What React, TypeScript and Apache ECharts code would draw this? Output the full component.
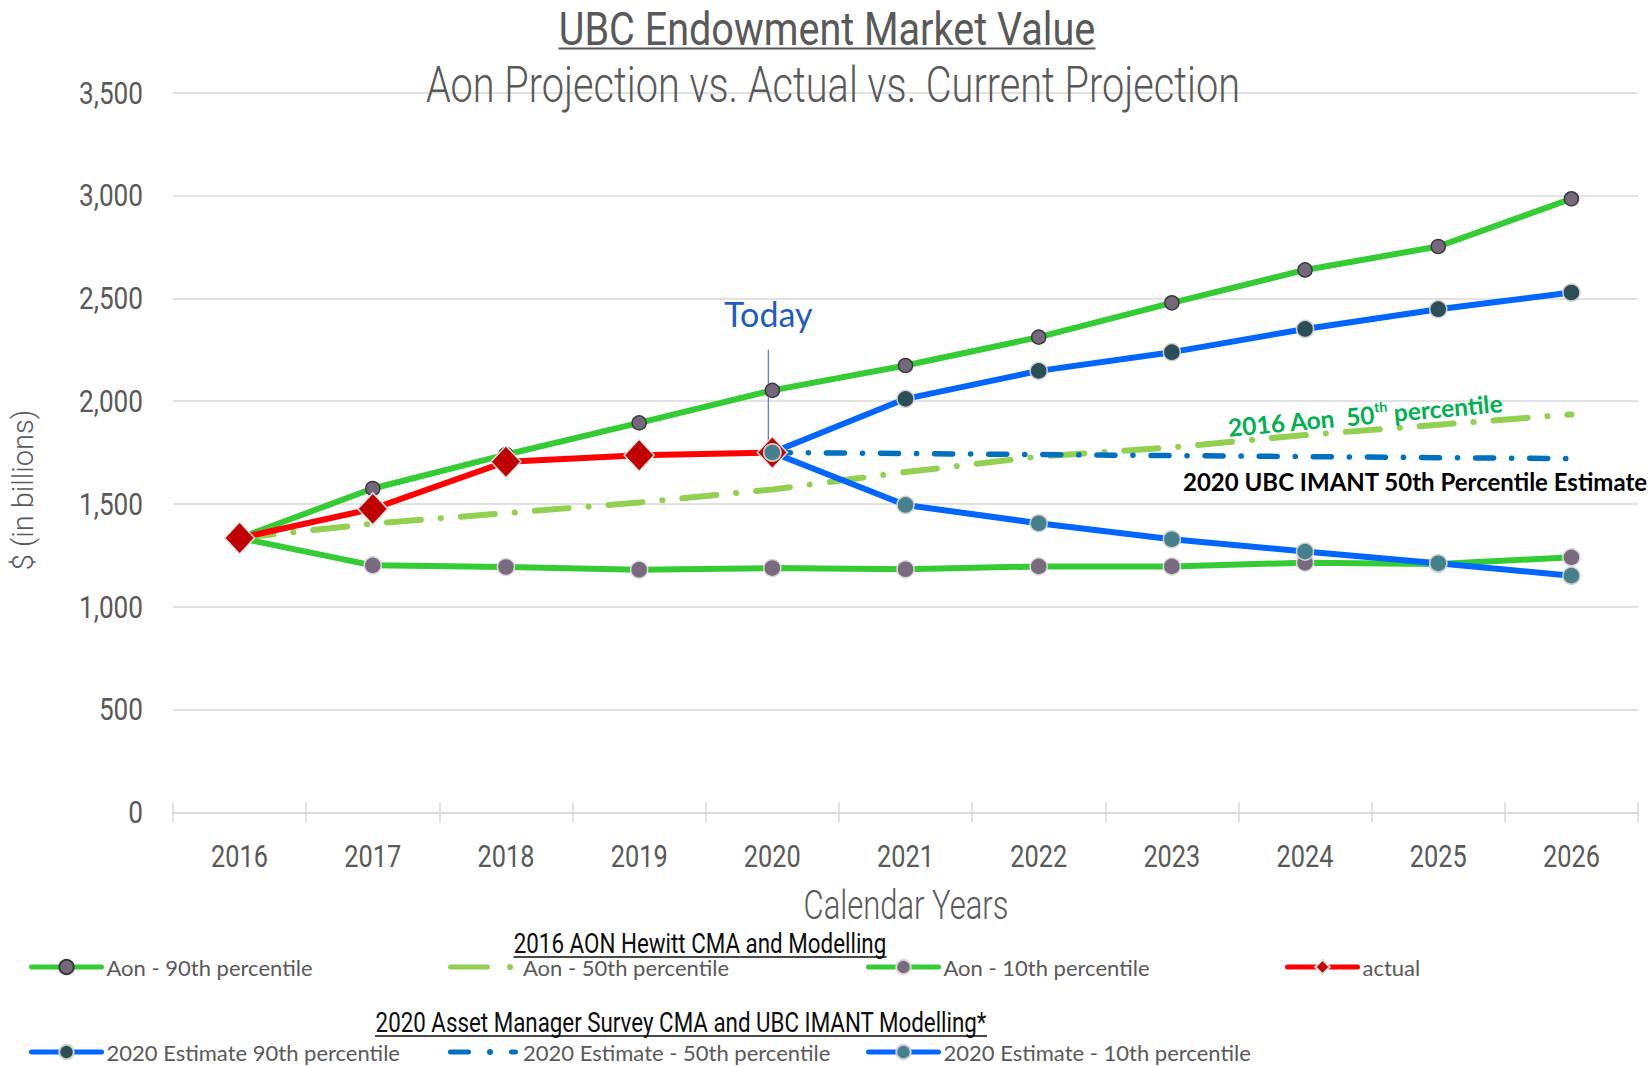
import React, { useEffect, useRef } from 'react';
import * as echarts from 'echarts';

const years = ['2016', '2017', '2018', '2019', '2020', '2021', '2022', '2023', '2024', '2025', '2026'];
const aon90 = [1334, 1575, 1740, 1894, 2052, 2173, 2311, 2478, 2638, 2752, 2984];
const aon50 = [1334, 1404, 1455, 1507, 1570, 1655, 1730, 1775, 1835, 1885, 1935];
const aon10 = [1334, 1201, 1193, 1180, 1188, 1182, 1196, 1196, 1214, 1208, 1240];
const actual = [1334, 1476, 1705, 1737, 1750, null, null, null, null, null, null];
const est90 = [null, null, null, null, 1750, 2011, 2147, 2238, 2351, 2447, 2528];
const est50 = [null, null, null, null, 1750, 1745, 1740, 1735, 1730, 1725, 1720];
const est10 = [null, null, null, null, 1750, 1495, 1406, 1328, 1268, 1211, 1151];
const yTicks = { min: 0, max: 3500, interval: 500 };
const todayLine = [1772, 2250];
const todayLabelValue = 2424;

const ROBOTO = 'Roboto, "Noto Sans", sans-serif';
const CAL = 'Lato, "Open Sans", sans-serif';
const GREY = '#595959';

function measure(text: string, font: string) {
  const c = document.createElement('canvas').getContext('2d')!;
  c.font = font;
  return c.measureText(text).width;
}

function narrowText(text: string, x: number, y: number, size: number, weight: number, targetW: number | null, scale: number | null, color: string, align: string, extra: any = {}) {
  const font = `${weight} ${size}px ${ROBOTO}`;
  const w = measure(text, font);
  const s = scale != null ? scale : (targetW as number) / w;
  return {
    el: {
      type: 'text', x, y, scaleX: s, z: 10,
      style: { text, fontFamily: ROBOTO, fontWeight: weight, fontSize: size, fill: color, align, verticalAlign: 'middle', ...extra },
    },
    width: w * s,
  };
}

export default function App() {
  const ref = useRef<HTMLDivElement>(null);
  useEffect(() => {
    const chart = echarts.init(ref.current!, null, { renderer: 'svg' });
    const legendNames = [
      'Aon - 90th percentile', 'Aon - 50th percentile', 'Aon - 10th percentile', 'actual',
      '2020 Estimate 90th percentile', '2020 Estimate - 50th percentile', '2020 Estimate - 10th percentile',
    ];
    const icons: Record<string, string> = {
      'Aon - 50th percentile':
        'path://M0,0 M70,18 M2.5,6.5 L39.5,6.5 A2.5,2.5 0 0 1 39.5,11.5 L2.5,11.5 A2.5,2.5 0 0 1 2.5,6.5 Z M59,9 A3,3 0 1 0 65,9 A3,3 0 1 0 59,9 Z',
      '2020 Estimate - 50th percentile':
        'path://M0,0 M70,18 M2.5,6.5 L20.5,6.5 A2.5,2.5 0 0 1 20.5,11.5 L2.5,11.5 A2.5,2.5 0 0 1 2.5,6.5 Z M39,9 A3,3 0 1 0 45,9 A3,3 0 1 0 39,9 Z M63.5,6.5 L67.5,6.5 A2.5,2.5 0 0 1 67.5,11.5 L63.5,11.5 A2.5,2.5 0 0 1 63.5,6.5 Z',
    };
    const colX = [29, 448, 866, 1285];
    const legends = legendNames.map((n, i) => ({
      data: [icons[n] ? { name: n, icon: icons[n] } : { name: n }],
      left: colX[i < 4 ? i : i - 4],
      top: (i < 4 ? 965 : 1050) - 9,
      padding: 0,
      itemWidth: 70,
      itemHeight: 18,
      selectedMode: false,
      lineStyle: { width: 5, cap: 'round' },
      textStyle: { fontFamily: CAL, fontSize: 22, color: GREY, lineHeight: 22 },
    }));
    const option: any = {
      animation: false,
      backgroundColor: '#fff',
      grid: { left: 173, right: 14, top: 92.7, bottom: 253.7, containLabel: false },
      legend: legends,
      xAxis: [
        {
          type: 'category', data: years, position: 'bottom',
          axisLine: { lineStyle: { color: '#D9D9D9', width: 1.5 } },
          axisTick: { show: true, length: 10, lineStyle: { color: '#D9D9D9', width: 1.5 } },
          axisLabel: { show: false },
          splitLine: { show: false },
        },
        {
          type: 'category', data: years, position: 'bottom',
          axisLine: { show: false },
          axisTick: { show: true, inside: true, length: 10, lineStyle: { color: '#D9D9D9', width: 1.5 } },
          axisLabel: { show: false },
          splitLine: { show: false },
        },
      ],
      yAxis: {
        type: 'value', ...yTicks,
        axisLine: { show: false }, axisTick: { show: false },
        axisLabel: { show: false },
        splitLine: { lineStyle: { color: '#D9D9D9', width: 1.5 } },
      },
      series: [
        {
          name: 'Aon - 90th percentile', type: 'line', data: aon90, symbol: 'circle', symbolSize: 14,
          lineStyle: { color: '#33CC33', width: 6 },
          itemStyle: { color: '#76687C', borderColor: '#3A3A3A', borderWidth: 1.5 },
        },
        {
          name: 'Aon - 50th percentile', type: 'line', data: aon50, symbol: 'none',
          lineStyle: { color: '#92D050', width: 6, type: [34, 20, 0.1, 20], cap: 'round' },
          itemStyle: { color: '#92D050' },
        },
        {
          name: 'Aon - 10th percentile', type: 'line', data: aon10, symbol: 'circle', symbolSize: 17,
          lineStyle: { color: '#33CC33', width: 6 },
          itemStyle: { color: '#7A6A80', borderColor: '#D9D9D9', borderWidth: 1.5 },
        },
        {
          name: 'actual', type: 'line', data: actual, symbol: 'diamond', symbolSize: [30, 32],
          lineStyle: { color: '#FF0000', width: 6 },
          itemStyle: { color: '#C00000', borderColor: '#E3E3E3', borderWidth: 1.5 },
        },
        {
          name: '2020 Estimate 90th percentile', type: 'line', data: est90, symbol: 'circle', symbolSize: 17,
          lineStyle: { color: '#0066FF', width: 6 },
          itemStyle: { color: '#2C4F57', borderColor: '#D0D0D0', borderWidth: 1.5 },
        },
        {
          name: '2020 Estimate - 50th percentile', type: 'line', data: est50, symbol: 'none',
          lineStyle: { color: '#0070C0', width: 5.5, type: [18, 18, 0.1, 18], cap: 'round' },
          itemStyle: { color: '#0070C0' },
        },
        {
          name: '2020 Estimate - 10th percentile', type: 'line', data: est10, symbol: 'circle', symbolSize: 17,
          lineStyle: { color: '#0066FF', width: 6 },
          itemStyle: { color: '#46808A', borderColor: '#D0D0D0', borderWidth: 1.5 },
        },
      ],
    };
    chart.setOption(option);

    const toPx = (x: string, y: number) => chart.convertToPixel({ xAxisIndex: 0, yAxisIndex: 0 }, [x, y]) as number[];
    const pA = toPx('2020', todayLine[0]);
    const pB = toPx('2020', todayLine[1]);
    const pT = toPx('2020', todayLabelValue);

    const graphic: any[] = [];
    const yLabScale = 64 / measure('3,500', `400 32px ${ROBOTO}`);
    for (let v = yTicks.min; v <= yTicks.max; v += yTicks.interval) {
      const p = toPx(years[0], v);
      graphic.push(narrowText(v.toLocaleString('en-US'), 143, p[1], 32, 400, null, yLabScale, GREY, 'right').el);
    }
    const xLabScale = 57 / measure('2016', `400 32px ${ROBOTO}`);
    years.forEach((yr) => {
      const p = toPx(yr, 0);
      graphic.push(narrowText(yr, p[0], 856, 32, 400, null, xLabScale, GREY, 'center').el);
    });

    const title = narrowText('UBC Endowment Market Value', 827, 29, 46, 400, 537, null, GREY, 'center', { lineHeight: 38 });
    graphic.push(title.el);
    graphic.push({ type: 'line', z: 10, shape: { x1: 827 - title.width / 2, y1: 48.5, x2: 827 + title.width / 2, y2: 48.5 }, style: { stroke: GREY, lineWidth: 2 } });
    graphic.push(narrowText('Aon Projection vs. Actual vs. Current Projection', 833, 85, 50, 300, 814, null, GREY, 'center').el);
    graphic.push(narrowText('Calendar Years', 906, 906, 40, 300, 205, null, GREY, 'center').el);
    const h1 = narrowText('2016 AON Hewitt CMA and Modelling', 700, 944, 27, 400, 373, null, '#0D0D0D', 'center', { lineHeight: 22 });
    graphic.push(h1.el);
    graphic.push({ type: 'line', z: 10, shape: { x1: 700 - h1.width / 2, y1: 957, x2: 700 + h1.width / 2, y2: 957 }, style: { stroke: '#0D0D0D', lineWidth: 1.5 } });
    const h2 = narrowText('2020 Asset Manager Survey CMA and UBC IMANT Modelling*', 681, 1023, 27, 400, 612, null, '#0D0D0D', 'center', { lineHeight: 22 });
    graphic.push(h2.el);
    graphic.push({ type: 'line', z: 10, shape: { x1: 681 - h2.width / 2, y1: 1036, x2: 681 + h2.width / 2, y2: 1036 }, style: { stroke: '#0D0D0D', lineWidth: 1.5 } });

    graphic.push(
      { type: 'text', x: 23, y: 490, rotation: Math.PI / 2, z: 10, style: { text: '$ (in billions)', fontFamily: ROBOTO, fontWeight: 300, fontSize: 29, fill: GREY, align: 'center', verticalAlign: 'middle' } },
      { type: 'line', z: 1, shape: { x1: pA[0] - 4, y1: pA[1], x2: pB[0] - 4, y2: pB[1] }, style: { stroke: '#5B73B5', lineWidth: 1.2 } },
      { type: 'text', x: pT[0] - 4, y: pT[1], z: 10, style: { text: 'Today', fontFamily: CAL, fontSize: 34, fill: '#1F5BC0', align: 'center', verticalAlign: 'middle' } },
      {
        type: 'text', x: 1365, y: 415, rotation: 0.09, z: 10,
        style: {
          text: '{a|2016 Aon  50}{s|th}{a| percentile}', align: 'center', verticalAlign: 'middle',
          rich: {
            a: { fontFamily: CAL, fontWeight: 'bold', fontSize: 24.5, fill: '#00B050', lineHeight: 28 },
            s: { fontFamily: CAL, fontWeight: 'bold', fontSize: 14, fill: '#00B050', lineHeight: 14, verticalAlign: 'top' },
          },
        },
      },
      { type: 'text', x: 1183, y: 481, z: 10, style: { text: '2020 UBC IMANT 50th Percentile Estimate', fontFamily: CAL, fontWeight: 'bold', fontSize: 24, fill: '#000', align: 'left', verticalAlign: 'middle' } },
    );
    chart.setOption({ graphic });
    return () => chart.dispose();
  }, []);
  return <div ref={ref} style={{ position: 'fixed', left: 0, top: 0, width: 1652, height: 1066 }} />;
}
